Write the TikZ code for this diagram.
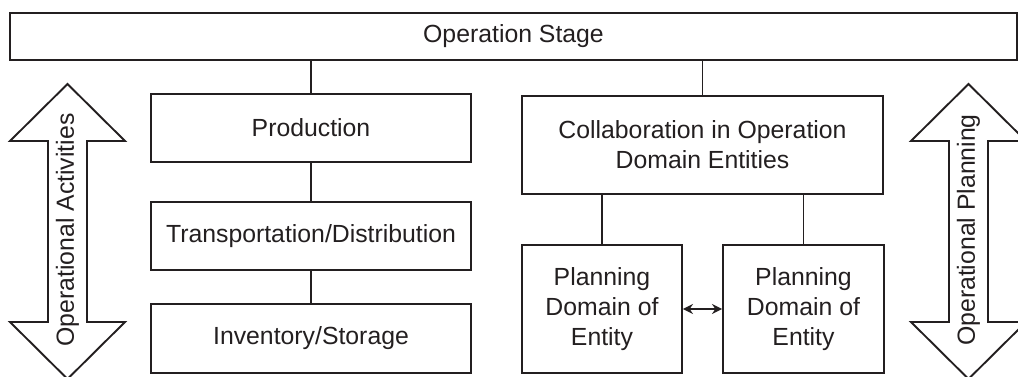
\documentclass[tikz,border=0pt]{standalone}
\usepackage{fontspec}
\setmainfont{Liberation Sans}
\usepackage{tikz}
\usetikzlibrary{arrows.meta, positioning, calc}

\definecolor{ink}{HTML}{231F20}

\begin{document}
\begin{tikzpicture}[
    x=0.5pt, y=-0.5pt,
    >={Stealth[length=5pt,width=5pt]},
    font=\fontsize{12.4}{15}\selectfont,
    every node/.style={text=ink},
    line/.style={draw=ink, line width=0.95pt},
    block/.style={line, inner sep=0pt, align=center},
    outline/.style={line, line join=miter}
]
\useasboundingbox (0,0) rectangle (1018,376);

\node[block, minimum width=503.5pt, minimum height=23.5pt] (stage) at (513.5,36.5) {Operation Stage};

% left column
\node[block, minimum width=160pt, minimum height=34pt] (production) at (311,128) {Production};
\node[block, minimum width=160pt, minimum height=34pt] (transport) at (311,236) {Transportation/Distribution};
\node[block, minimum width=160pt, minimum height=34.5pt] (inventory) at (311,338.5) {Inventory/Storage};

% right column
\node[block, minimum width=180.5pt, minimum height=49pt] (collab) at (702.5,145) {Collaboration in Operation\\Domain Entities};
\node[block, minimum width=80pt, minimum height=64pt] (planleft) at (602,309) {Planning\\Domain of\\Entity};
\node[block, minimum width=80.5pt, minimum height=64pt] (planright) at (803.5,309) {Planning\\Domain of\\Entity};

\draw[line] (production.north) -- (production.north |- stage.south);
\draw[line] (production.south) -- (transport.north);
\draw[line] (transport.south) -- (inventory.north);
\draw[line] (collab.north) -- (collab.north |- stage.south);
\draw[line] (planleft.north) -- (planleft.north |- collab.south);
\draw[line] (planright.north) -- (planright.north |- collab.south);
\draw[line, <->] (planleft.east) -- (planright.west);

% side arrows
\foreach \cx/\name/\txt in {67.5/actlabel/Operational Activities, 968.5/planlabel/Operational Planning} {
  \draw[outline] (\cx,84) -- ++(57.5,57) -- ++(-38,0) -- ++(0,181) -- ++(38,0)
      -- ++(-57.5,57) -- ++(-57.5,-57) -- ++(38,0) -- ++(0,-181) -- ++(-38,0) -- cycle;
  \node[rotate=90] (\name) at (\cx,230) {\txt};
}

\end{tikzpicture}
\end{document}
